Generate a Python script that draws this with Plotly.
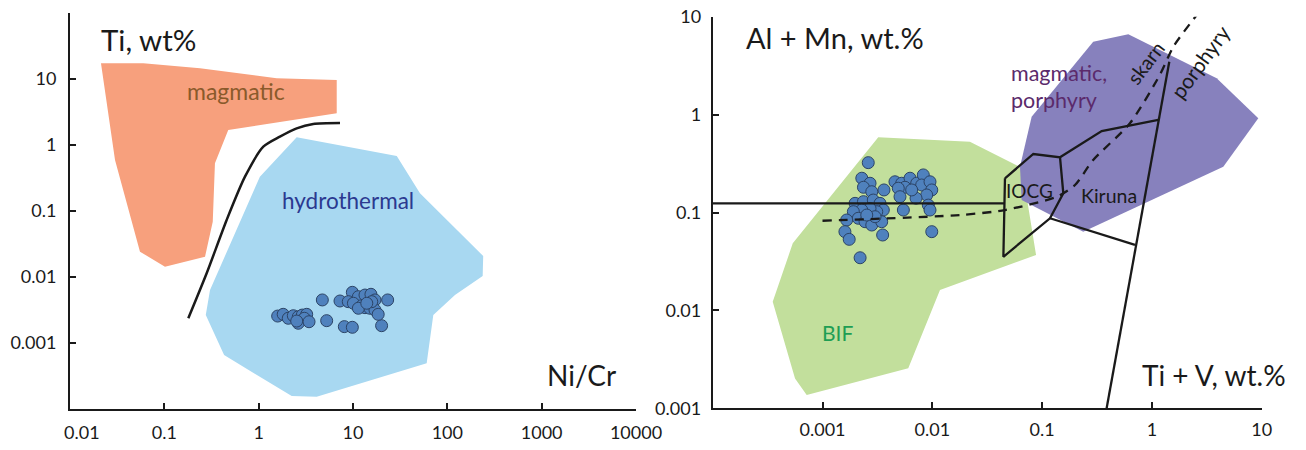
import plotly.graph_objects as go

W, H = 1306, 450
FONT = "Lato"

# ---------------- Left panel data (Ni/Cr vs Ti, wt%) ----------------
magmatic_x = [0.0213, 0.0598, 0.239, 1.55, 6.72, 6.72, 0.476, 0.344, 0.326, 0.270, 0.1016, 0.0552, 0.030]
magmatic_y = [17.3, 17.3, 14.5, 10.25, 9.66, 3.02, 1.69, 0.528, 0.0689, 0.0203, 0.0143, 0.0242, 0.593]

hydro_x = [2.53, 29.1, 51.3, 240, 237, 120.5, 71.0, 60.4, 4.12, 2.24, 0.430, 0.275, 0.305, 1.03]
hydro_y = [1.31, 0.681, 0.185, 0.0208, 0.01035, 0.00533, 0.00265, 0.000492, 0.000153, 0.000157, 0.000658, 0.00265, 0.00635, 0.331]

curve_x = [0.1795, 0.281, 0.458, 0.716, 1.12, 1.68, 2.53, 3.79, 7.28]
curve_y = [0.00237, 0.01138, 0.0731, 0.331, 0.942, 1.34, 1.79, 2.08, 2.15]

left_pts_x = [1.59, 1.82, 2.06, 2.33, 2.63, 2.90, 3.23, 3.05, 2.63, 3.42, 2.53, 4.73, 7.28, 5.26, 8.09,
              9.84, 20.1, 23.3, 9.84, 11.4, 13.4, 15.5, 17.1, 8.91, 10.1, 12.4, 13.4, 15.1, 17.1, 18.5,
              15.8, 11.4, 14.0]
left_pts_y = [0.00256, 0.00272, 0.00237, 0.00259, 0.00250, 0.00265, 0.00272, 0.00237, 0.00199, 0.00210,
              0.00215, 0.00449, 0.00433, 0.00218, 0.00177, 0.00173, 0.00183, 0.00449, 0.00586, 0.00503,
              0.00533, 0.00547, 0.00449, 0.00423, 0.00400, 0.00367, 0.00343, 0.00336, 0.00316, 0.00272,
              0.00423, 0.00336, 0.00400]

left_xticks = [0.01, 0.1, 1, 10, 100, 1000, 10000]
left_xtick_text = ["", "0.1", "1", "10", "100", "1000", "10000"]
left_yticks = [10, 1, 0.1, 0.01, 0.001]
left_ytick_text = ["10", "1", "0.1", "0.01", "0.001"]

# ---------------- Right panel data (Ti+V vs Al+Mn) ----------------
bif_x = [0.00322, 0.0220, 0.0656, 0.0881, 0.01175, 0.00604, 0.000718, 0.000562, 0.000352, 0.000536]
bif_y = [0.586, 0.528, 0.285, 0.0368, 0.01615, 0.00256, 0.001368, 0.00202, 0.01227, 0.0484]

porph_x = [0.292, 0.610, 3.89, 9.31, 4.47, 0.237, 0.0651, 0.0629, 0.0803]
porph_y = [5.55, 6.61, 2.35, 0.917, 0.294, 0.0637, 0.134, 0.294, 0.953]

hline_x = [0.0001, 0.0459]
hline_y = [0.124, 0.124]

iocg_x = [0.0459, 0.0832, 0.1456, 0.156, 0.118, 0.0444, 0.0459]
iocg_y = [0.2235, 0.396, 0.366, 0.157, 0.0873, 0.0353, 0.2235]

upper_x = [0.1456, 0.349, 1.143]
upper_y = [0.366, 0.680, 0.881]

lower_x = [0.118, 0.701]
lower_y = [0.0873, 0.0466]

steep_x = [0.387, 1.44]
steep_y = [0.001, 3.47]

dash_x = [0.001, 0.01786, 0.0459, 0.136, 0.1995, 0.292, 0.631, 1.18, 1.57, 2.56]
dash_y = [0.0824, 0.0942, 0.106, 0.145, 0.191, 0.344, 0.815, 2.54, 4.94, 10.4]

right_pts_x = [0.00261, 0.00228, 0.00271, 0.00236, 0.00281, 0.00363, 0.00457, 0.00526, 0.00627, 0.00564,
               0.00490, 0.00508, 0.00721, 0.00828, 0.00800, 0.00953, 0.00989, 0.00889, 0.00711, 0.00649,
               0.00198, 0.00236, 0.00290, 0.00334, 0.00358, 0.00312, 0.00271, 0.00228, 0.00191, 0.00212,
               0.00244, 0.00281, 0.00346, 0.00301, 0.00253, 0.00166, 0.00160, 0.00175, 0.00353, 0.00220,
               0.00545, 0.00920, 0.00953, 0.00989]
right_pts_y = [0.323, 0.224, 0.199, 0.181, 0.163, 0.170, 0.206, 0.199, 0.224, 0.181,
               0.177, 0.145, 0.199, 0.242, 0.191, 0.206, 0.170, 0.151, 0.140, 0.170,
               0.124, 0.129, 0.134, 0.124, 0.106, 0.102, 0.110, 0.106, 0.102, 0.0873,
               0.0805, 0.0745, 0.0805, 0.0906, 0.0942, 0.0838, 0.0637, 0.0532, 0.0589, 0.0345,
               0.106, 0.119, 0.106, 0.0637]

right_xticks = [0.001, 0.01, 0.1, 1, 10]
right_xtick_text = ["0.001", "0.01", "0.1", "1", "10"]
right_yticks = [10, 1, 0.1, 0.01, 0.001]
right_ytick_text = ["10", "1", "0.1", "0.01", "0.001"]

# ---------------- Styles ----------------
C_SALMON = "#F7A07D"
C_LBLUE = "#A8D8F1"
C_GREEN = "#C2DF9C"
C_PURPLE = "#8781BD"
C_MARK = "#4F81BD"
C_MARK_LINE = "#2C4466"
C_LINE = "#1A1A1A"

fig = go.Figure()

def poly(x, y, color, xa, ya):
    fig.add_trace(go.Scatter(x=x, y=y, fill="toself", fillcolor=color, mode="lines",
                             line=dict(width=0, color=color), xaxis=xa, yaxis=ya,
                             hoverinfo="skip", showlegend=False))

def line(x, y, xa, ya, width=2, dash="solid", shape="linear"):
    fig.add_trace(go.Scatter(x=x, y=y, mode="lines",
                             line=dict(color=C_LINE, width=width, dash=dash, shape=shape, smoothing=0.7),
                             xaxis=xa, yaxis=ya, showlegend=False, hoverinfo="skip"))

def pts(x, y, xa, ya):
    fig.add_trace(go.Scatter(x=x, y=y, mode="markers",
                             marker=dict(size=12, color=C_MARK, line=dict(color=C_MARK_LINE, width=1)),
                             xaxis=xa, yaxis=ya, showlegend=False))

# left
poly(magmatic_x, magmatic_y, C_SALMON, "x", "y")
poly(hydro_x, hydro_y, C_LBLUE, "x", "y")
line(curve_x, curve_y, "x", "y", width=2.5, shape="spline")
pts(left_pts_x, left_pts_y, "x", "y")

# right
poly(bif_x, bif_y, C_GREEN, "x2", "y2")
poly(porph_x, porph_y, C_PURPLE, "x2", "y2")
pts(right_pts_x, right_pts_y, "x2", "y2")
line(hline_x, hline_y, "x2", "y2", width=2.3)
line(iocg_x, iocg_y, "x2", "y2", width=2.3)
line(upper_x, upper_y, "x2", "y2", width=2.3)
line(lower_x, lower_y, "x2", "y2", width=2.3)
line(steep_x, steep_y, "x2", "y2", width=2.3)
line(dash_x, dash_y, "x2", "y2", width=2.3, dash="9px,7px", shape="spline")

def px(x):
    return x / W

def py(y):
    return 1 - y / H

axis_common = dict(type="log", showgrid=False, zeroline=False, showline=True, linecolor="#1A1A1A",
                   linewidth=2, ticks="inside", ticklen=6, tickwidth=1.5, tickcolor="#1A1A1A",
                   tickfont=dict(family=FONT, size=18, color="#1A1A1A"), tickmode="array",
                   automargin=False)

fig.update_layout(
    width=W, height=H, margin=dict(l=0, r=0, t=0, b=0, autoexpand=False),
    paper_bgcolor="white", plot_bgcolor="white", showlegend=False,
    xaxis=dict(axis_common, domain=[px(70), px(636)], range=[-2, 4], anchor="y",
               tickvals=left_xticks, ticktext=left_xtick_text, ticklabelstandoff=6),
    yaxis=dict(axis_common, domain=[py(409), py(13)], range=[-4, 2], anchor="x",
               tickvals=left_yticks, ticktext=left_ytick_text, ticklabelstandoff=8),
    xaxis2=dict(axis_common, domain=[px(712.7), px(1261.7)], range=[-4, 1], anchor="y2",
                tickvals=right_xticks, ticktext=right_xtick_text, ticklabelstandoff=4),
    yaxis2=dict(axis_common, domain=[py(408.3), py(16.7)], range=[-3, 1], anchor="x2",
                tickvals=right_yticks, ticktext=right_ytick_text, ticklabelstandoff=6),
)

def ann(text, x, y, size, color="#1A1A1A", xanchor="center", angle=0, yanchor="middle"):
    fig.add_annotation(text=text, x=px(x), y=py(y), xref="paper", yref="paper",
                       xanchor=xanchor, yanchor=yanchor, showarrow=False, textangle=angle,
                       borderpad=0, font=dict(family=FONT, size=size, color=color))

ann("0.01", 82, 432, 18)
ann("Ti, wt%", 100, 39, 29.5, xanchor="left")
ann("Ni/Cr", 617, 375, 28, xanchor="right")
ann("magmatic", 235.5, 91, 23, color="#8A5A2B")
ann("hydrothermal", 347.5, 200, 22.5, color="#2B3990")

ann("Al + Mn, wt.%", 745, 38, 29, xanchor="left")
ann("Ti + V, wt.%", 1287, 375, 28, xanchor="right")
ann("magmatic,", 1010, 87, 21.5, color="#5B2A6B", xanchor="left", yanchor="bottom")
ann("porphyry", 1010, 86, 21.5, color="#5B2A6B", xanchor="left", yanchor="top")
ann("skarn", 1145, 63, 20, angle=-53)
ann("porphyry", 1200, 61.7, 21, angle=-54)
ann("IOCG", 1029, 190, 19)
ann("Kiruna", 1109, 195, 19.5)
ann("BIF", 837, 332, 21, color="#1E9E54")

fig.write_html("out.html")
